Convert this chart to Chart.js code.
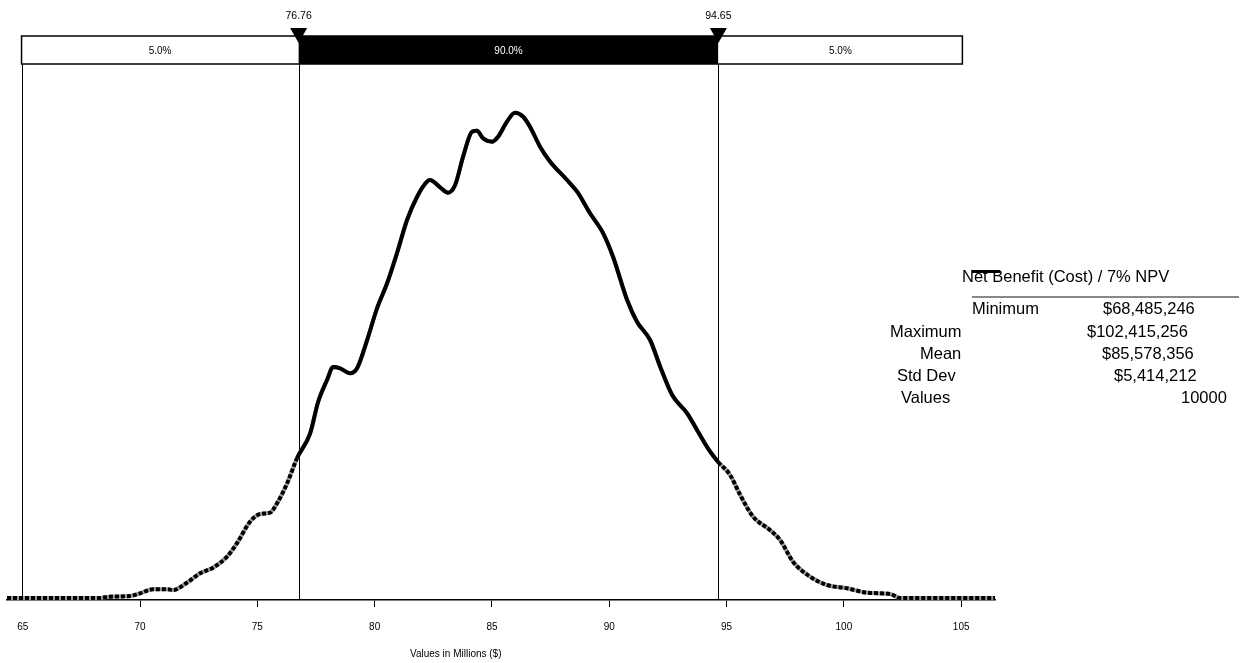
<!DOCTYPE html>
<html>
<head>
<meta charset="utf-8">
<script src="https://cdn.jsdelivr.net/npm/chart.js@4/dist/chart.umd.min.js"></script>
<style>
  html, body { margin: 0; padding: 0; background: #fff; }
  #wrap { position: relative; width: 1244px; height: 663px; font-family: 'Liberation Sans', Arial, sans-serif; }
  #wrap canvas { position: absolute; left: 0; top: 0; }
  .txt { position: absolute; white-space: nowrap; color: #000; line-height: 16px; font-size: 16.5px; }
</style>
</head>
<body>
<div id="wrap">
  <canvas id="dist" width="1244" height="663"></canvas>
  <div class="txt" style="left:962px; top:268px;">Net Benefit (Cost) / 7% NPV</div>
  <div style="position:absolute; left:972px; top:270px; width:28px; height:3px; background:#000;"></div>
  <div style="position:absolute; left:972px; top:296px; width:267px; height:1.5px; background:#888;"></div>
  <div id="stats"></div>
  <div class="txt" style="left:410px; top:648px; font-size:10px; line-height:12px;">Values in Millions ($)</div>
</div>
<script>
// simulated distribution, values in millions
const xValues = [64.33, 66.59, 68.29, 68.72, 69.57, 70.0, 70.55, 71.15, 71.41, 72.0, 72.56, 73.11, 73.71, 74.13, 74.69,
  75.12, 75.54, 75.84, 76.27, 76.69, 77.25, 77.59, 77.97, 78.23, 78.53, 78.95, 79.25, 79.68, 80.10, 80.53, 80.95, 81.38,
  81.81, 82.23, 82.36, 82.79, 83.13, 83.43, 83.77, 84.15, 84.36, 84.62, 85.00, 85.26, 85.64, 85.98, 86.33, 86.62, 87.05,
  87.48, 88.20, 88.63, 89.18, 89.74, 90.16, 90.76, 91.18, 91.74, 92.17, 92.68, 93.32, 93.74, 94.30, 94.64, 95.15, 95.58,
  96.13, 96.85, 97.28, 97.83, 98.56, 99.28, 100.14, 100.99, 101.97, 102.40, 106.44];
const density = [0, 0, 0, 1.3, 2, 4.7, 8.7, 8.7, 8, 15.3, 24.7, 30.3, 41.3, 54.7, 76.3,
  84, 85.3, 94.7, 114.7, 139.7, 164.7, 196, 218, 231, 229.7, 224.7, 229.7, 258, 289.7, 314.7, 344.7, 378,
  401.3, 416.3, 418, 410.7, 405.3, 413, 441.3, 466.3, 467.3, 459.7, 456.3, 461.3, 476.3, 485.3, 481.3, 471.3, 451.3,
  436.3, 418, 406.3, 384.7, 364.7, 341.3, 298, 276.3, 258, 231.3, 203, 184.7, 168, 146.3, 136, 123, 103,
  81.3, 68, 58, 36.3, 21.3, 13, 9.7, 5.3, 4, 0, 0];

const xTickValues = [65, 70, 75, 80, 85, 90, 95, 100, 105];
const markerValues = [76.76, 94.65];
const bandEdges = [64.95, 105.05];
const bandLabels = ['5.0%', '90.0%', '5.0%'];

const statNames = ['Minimum', 'Maximum', 'Mean', 'Std Dev', 'Values'];
const statValues = ['$68,485,246', '$102,415,256', '$85,578,356', '$5,414,212', '10000'];

// where the stats rows sit in the picture
const statNameLeft = [972, 890, 920, 897, 901];
const statValueLeft = [1103, 1087, 1102, 1114, 1181];
const statTop = [300, 323, 345, 367, 389];

const stats = document.getElementById('stats');
statNames.forEach((name, i) => {
  const a = document.createElement('div');
  a.className = 'txt';
  a.style.left = statNameLeft[i] + 'px';
  a.style.top = statTop[i] + 'px';
  a.textContent = name;
  stats.appendChild(a);
  const b = document.createElement('div');
  b.className = 'txt';
  b.style.left = statValueLeft[i] + 'px';
  b.style.top = statTop[i] + 'px';
  b.textContent = statValues[i];
  stats.appendChild(b);
});

const points = xValues.map((x, i) => ({ x: x, y: density[i] }));

const barTop = 36;
const barBottom = 64;

const bandPlugin = {
  id: 'bands',
  beforeDatasetsDraw(chart) {
    const { ctx, chartArea } = chart;
    const x = chart.scales.x;
    ctx.save();
    ctx.strokeStyle = '#000';
    ctx.lineWidth = 1;
    [bandEdges[0], ...markerValues].forEach((v) => {
      const px = Math.round(x.getPixelForValue(v)) + 0.5;
      ctx.beginPath();
      ctx.moveTo(px, barBottom);
      ctx.lineTo(px, chartArea.bottom);
      ctx.stroke();
    });
    ctx.restore();
  },
  afterDraw(chart) {
    const { ctx } = chart;
    const x = chart.scales.x;
    const stops = [bandEdges[0], markerValues[0], markerValues[1], bandEdges[1]].map((v) => x.getPixelForValue(v));
    ctx.save();
    ctx.font = '10px "Liberation Sans", Arial, sans-serif';
    ctx.textAlign = 'center';
    ctx.textBaseline = 'middle';
    for (let i = 0; i < 3; i++) {
      ctx.fillStyle = i === 1 ? '#000' : '#fff';
      ctx.fillRect(stops[i], barTop, stops[i + 1] - stops[i], barBottom - barTop);
      ctx.fillStyle = i === 1 ? '#fff' : '#000';
      ctx.fillText(bandLabels[i], (stops[i] + stops[i + 1]) / 2, 51);
    }
    ctx.strokeStyle = '#000';
    ctx.lineWidth = 1.5;
    ctx.strokeRect(stops[0], barTop, stops[3] - stops[0], barBottom - barTop);

    ctx.font = '10.5px "Liberation Sans", Arial, sans-serif';
    markerValues.forEach((v) => {
      const px = x.getPixelForValue(v);
      ctx.fillStyle = '#000';
      ctx.beginPath();
      ctx.moveTo(px - 8.5, 28);
      ctx.lineTo(px + 8.5, 28);
      ctx.lineTo(px, 43);
      ctx.closePath();
      ctx.fill();
      ctx.fillText(v.toFixed(2), px, 16);
    });
    ctx.restore();
  }
};

const inTail = (ctx) => ctx.p1.parsed.x <= markerValues[0] + 0.05 || ctx.p0.parsed.x >= markerValues[1] - 0.05;

Chart.defaults.font.family = '"Liberation Sans", Arial, sans-serif';

new Chart(document.getElementById('dist'), {
  type: 'line',
  data: {
    datasets: [
      {
        label: 'Net Benefit (Cost) / 7% NPV',
        data: points,
        borderColor: '#000',
        borderWidth: 4,
        pointRadius: 0,
        cubicInterpolationMode: 'monotone',
        order: 0,
        segment: {
          borderDash: (ctx) => (inTail(ctx) ? [4, 2] : undefined),
        },
      },
      {
        label: 'tail',
        data: points,
        borderColor: '#9a9a9a',
        borderWidth: 4,
        pointRadius: 0,
        cubicInterpolationMode: 'monotone',
        order: 1,
      },
    ],
  },
  options: {
    responsive: false,
    animation: false,
    events: [],
    layout: { padding: { left: 7, right: 249, top: 70, bottom: 0 } },
    plugins: { legend: { display: false }, tooltip: { enabled: false } },
    scales: {
      x: {
        type: 'linear',
        min: 64.33,
        max: 106.44,
        afterBuildTicks: (scale) => { scale.ticks = xTickValues.map((v) => ({ value: v })); },
        afterFit: (scale) => { scale.height = 63; },
        border: { display: true, color: '#000', width: 1.5 },
        grid: {
          drawOnChartArea: false,
          drawTicks: true,
          tickLength: 7,
          tickWidth: 1,
          tickColor: (ctx) => (ctx.tick && ctx.tick.value === 65 ? 'rgba(0,0,0,0)' : '#000'),
        },
        ticks: {
          color: '#000',
          padding: 14,
          maxRotation: 0,
          font: { size: 10 },
          callback: (v) => String(v),
        },
      },
      y: {
        display: false,
        min: -2,
        max: 528,
      },
    },
  },
  plugins: [bandPlugin],
});
</script>
</body>
</html>
